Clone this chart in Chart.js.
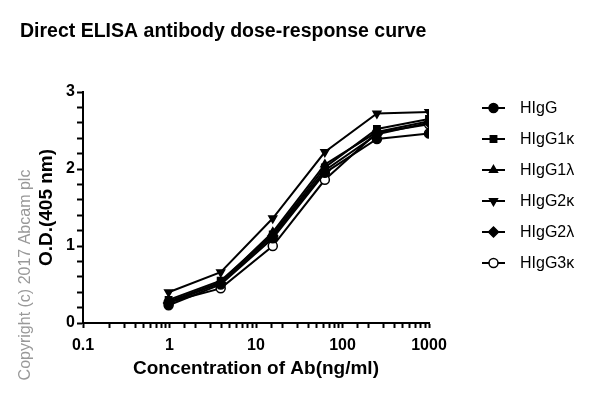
<!DOCTYPE html>
<html>
<head>
<meta charset="utf-8">
<script src="https://cdn.jsdelivr.net/npm/chart.js@4.4.1/dist/chart.umd.min.js"></script>
<style>
  html, body { margin: 0; padding: 0; background: #fff; }
  #wrap { width: 600px; height: 399px; position: relative; }
</style>
</head>
<body>
<div id="wrap"><canvas id="elisaChart"></canvas></div>
<script>
// 4-fold dilution series, ng/ml
var concentrations = [0.977, 3.906, 15.625, 62.5, 250, 1000];

var seriesNames = ['HIgG', 'HIgG1\u03BA', 'HIgG1\u03BB', 'HIgG2\u03BA', 'HIgG2\u03BB', 'HIgG3\u03BA'];
var hIgG    = [0.23, 0.50, 1.10, 1.95, 2.39, 2.46];
var hIgG1k  = [0.30, 0.55, 1.15, 2.02, 2.52, 2.65];
var hIgG1l  = [0.28, 0.53, 1.18, 2.06, 2.48, 2.62];
var hIgG2k  = [0.40, 0.66, 1.36, 2.22, 2.72, 2.74];
var hIgG2l  = [0.26, 0.52, 1.13, 1.98, 2.45, 2.60];
var hIgG3k  = [0.27, 0.45, 1.00, 1.86, 2.47, 2.58];

var xTickLabels = [0.1, 1, 10, 100, 1000];
var yTickLabels = [0, 1, 2, 3];

var fontFamily = "'Liberation Sans', Arial, Helvetica, sans-serif";

var markers = [
    { style: 'circle', rotation: 0, fill: '#000' },
    { style: 'rect', rotation: 0, fill: '#000' },
    { style: 'triangle', rotation: 0, fill: '#000' },
    { style: 'triangle', rotation: 180, fill: '#000' },
    { style: 'rectRot', rotation: 0, fill: '#000' },
    { style: 'circle', rotation: 0, fill: '#fff' }
];

function toPoints(values) {
    return values.map(function(v, i) { return { x: concentrations[i], y: v }; });
}

var allValues = [hIgG, hIgG1k, hIgG1l, hIgG2k, hIgG2l, hIgG3k];

var datasets = allValues.map(function(values, i) {
    var m = markers[i];
    return {
        label: seriesNames[i],
        data: toPoints(values),
        borderColor: '#000',
        borderWidth: 2,
        backgroundColor: m.fill,
        pointStyle: m.style,
        pointRotation: m.rotation,
        pointRadius: m.style === 'rectRot' ? 5 : 4.5,
        pointBorderWidth: 1.5,
        pointBorderColor: '#000',
        pointBackgroundColor: m.fill,
        tension: 0,
        fill: false
    };
});

function isPow10(v) {
    var l = Math.log10(v);
    return Math.abs(l - Math.round(l)) < 1e-9;
}

// title, copyright note and line+marker legend
var extrasPlugin = {
    id: 'extras',
    afterDraw: function(chart) {
        var ctx = chart.ctx;
        ctx.save();
        ctx.fillStyle = '#000';
        ctx.font = 'bold 19.5px ' + fontFamily;
        ctx.textAlign = 'left';
        ctx.textBaseline = 'alphabetic';
        ctx.fillText('Direct ELISA antibody dose-response curve', 20, 37);

        ctx.save();
        ctx.translate(26, 275);
        ctx.rotate(-Math.PI / 2);
        ctx.fillStyle = '#999';
        ctx.font = '16px ' + fontFamily;
        ctx.textAlign = 'center';
        ctx.textBaseline = 'middle';
        ctx.fillText('Copyright (c) 2017 Abcam plc', 0, 0);
        ctx.restore();

        chart.data.datasets.forEach(function(ds, i) {
            var y = 108 + i * 31;
            ctx.strokeStyle = '#000';
            ctx.lineWidth = 2;
            ctx.beginPath();
            ctx.moveTo(482, y);
            ctx.lineTo(505, y);
            ctx.stroke();
            ctx.fillStyle = ds.pointBackgroundColor;
            ctx.lineWidth = 1.5;
            Chart.helpers.drawPoint(ctx, {
                pointStyle: ds.pointStyle,
                rotation: ds.pointRotation,
                radius: ds.pointRadius,
                borderWidth: 1.5
            }, 493.5, y);
            ctx.fillStyle = '#000';
            ctx.font = '16px ' + fontFamily;
            ctx.textAlign = 'left';
            ctx.textBaseline = 'middle';
            ctx.fillText(ds.label, 520, y + 1);
        });
        ctx.restore();
    }
};

var ctxEl = document.getElementById('elisaChart');
new Chart(ctxEl, {
    type: 'line',
    data: { datasets: datasets },
    options: {
        responsive: true,
        maintainAspectRatio: false,
        animation: false,
        layout: { padding: { top: 92, right: 171, left: 0, bottom: 0 } },
        plugins: {
            legend: { display: false },
            tooltip: { enabled: false }
        },
        scales: {
            x: {
                type: 'logarithmic',
                min: 0.1,
                max: 1000,
                afterFit: function(scale) { scale.height = 76; },
                border: { display: true, color: '#000', width: 2 },
                grid: {
                    display: true,
                    drawOnChartArea: false,
                    drawTicks: true,
                    tickLength: 5,
                    tickColor: '#000',
                    tickWidth: 2
                },
                ticks: {
                    autoSkip: false,
                    maxRotation: 0,
                    padding: 8,
                    color: '#000',
                    font: { family: fontFamily, size: 16, weight: 'bold' },
                    callback: function(value) {
                        return (isPow10(value) && xTickLabels.indexOf(Number(value.toPrecision(6))) !== -1) ? String(Number(value.toPrecision(6))) : '';
                    }
                },
                title: {
                    display: true,
                    text: 'Concentration of Ab(ng/ml)',
                    color: '#000',
                    font: { family: fontFamily, size: 19, weight: 'bold' },
                    padding: { top: 0, bottom: 19 }
                }
            },
            y: {
                min: 0,
                max: 3,
                afterFit: function(scale) { scale.width = 83; },
                border: { display: true, color: '#000', width: 2 },
                grid: {
                    display: true,
                    drawOnChartArea: false,
                    drawTicks: true,
                    tickLength: 6,
                    tickColor: '#000',
                    tickWidth: 2
                },
                ticks: {
                    stepSize: 0.2,
                    autoSkip: false,
                    padding: 2,
                    color: '#000',
                    font: { family: fontFamily, size: 16, weight: 'bold' },
                    callback: function(value) {
                        var r = Math.round(value);
                        return (Math.abs(value - r) < 1e-6 && yTickLabels.indexOf(r) !== -1) ? String(r) : '';
                    }
                },
                title: {
                    display: true,
                    text: 'O.D.(405 nm)',
                    color: '#000',
                    font: { family: fontFamily, size: 19, weight: 'bold' },
                    padding: { top: 35, bottom: 0 }
                }
            }
        }
    },
    plugins: [extrasPlugin]
});
</script>
</body>
</html>
